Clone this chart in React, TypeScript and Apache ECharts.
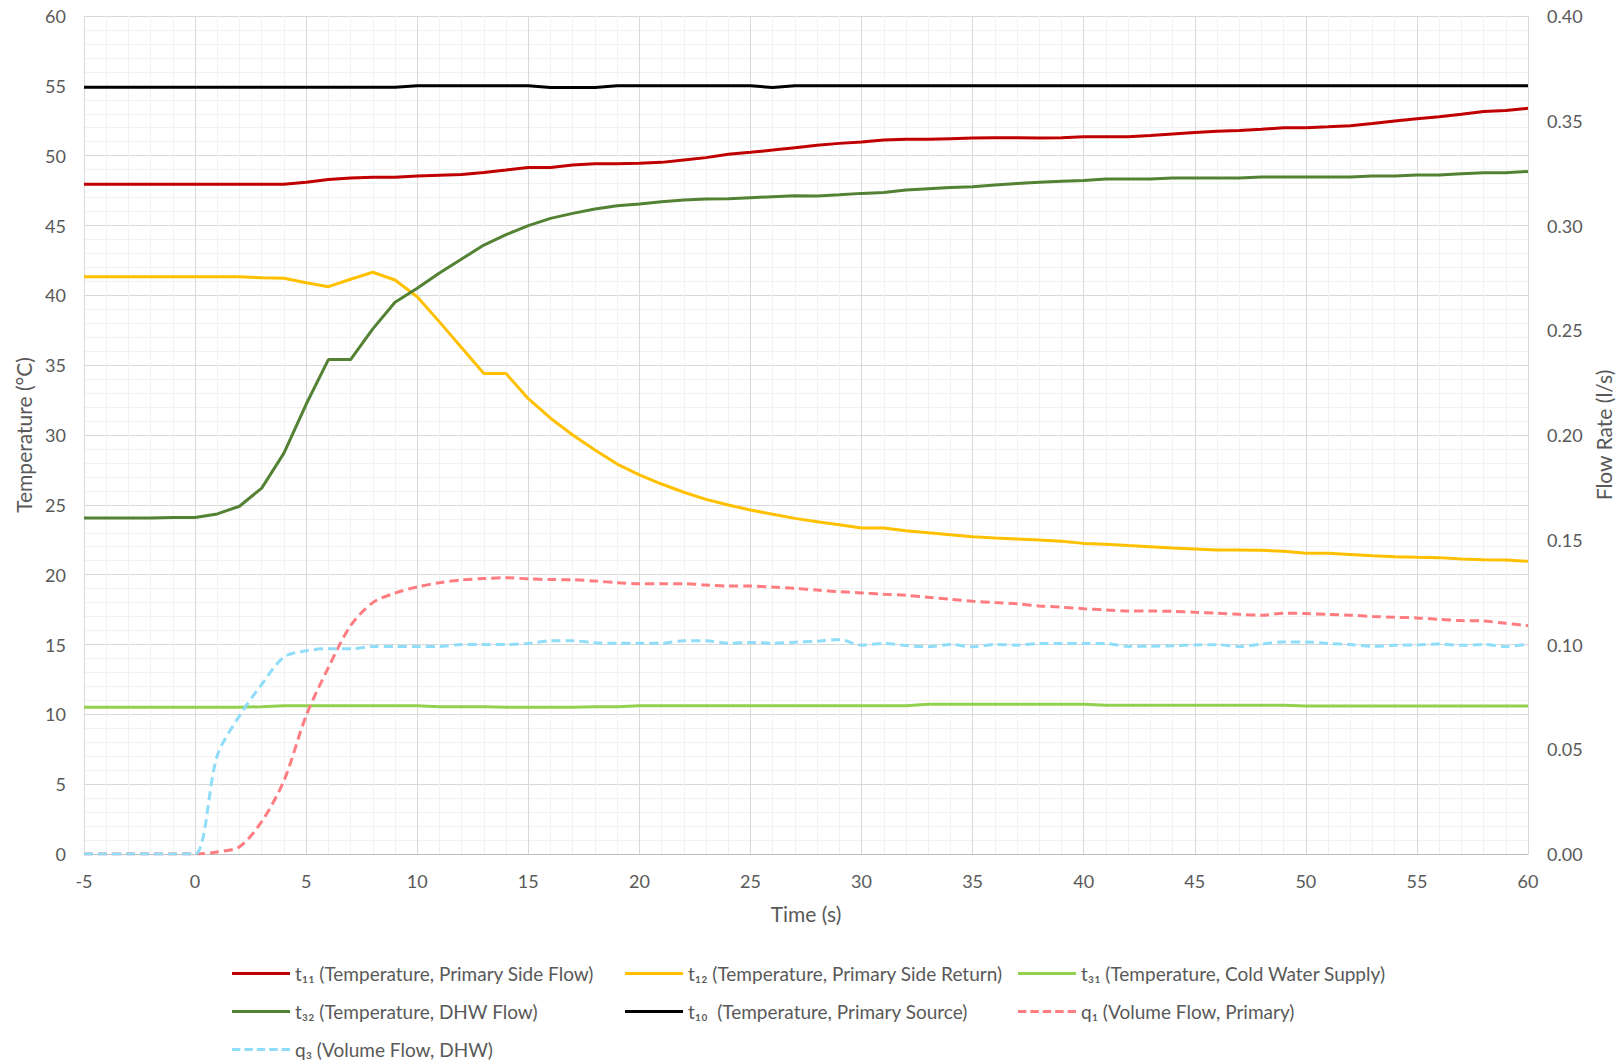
import React, { useEffect, useRef } from "react";
import * as echarts from "echarts";

const FONT = "Lato, 'Open Sans', sans-serif";
const TEXT_COLOR = "#595959";

// Time (s)
const time = [
  -5, -4, -3, -2, -1, 0, 1, 2, 3, 4, 5, 6, 7, 8, 9, 10, 11, 12, 13, 14, 15, 16, 17, 18, 19, 20,
  21, 22, 23, 24, 25, 26, 27, 28, 29, 30, 31, 32, 33, 34, 35, 36, 37, 38, 39, 40, 41, 42, 43, 44,
  45, 46, 47, 48, 49, 50, 51, 52, 53, 54, 55, 56, 57, 58, 59, 60,
];

// t11 Primary Side Flow (°C)
const t11 = [
  47.95, 47.95, 47.95, 47.95, 47.95, 47.95, 47.95, 47.95, 47.95, 47.95, 48.1, 48.3, 48.4, 48.45,
  48.45, 48.55, 48.6, 48.65, 48.8, 48.97, 49.15, 49.15, 49.33, 49.42, 49.42, 49.45, 49.52, 49.69,
  49.86, 50.1, 50.24, 50.4, 50.57, 50.74, 50.88, 50.98, 51.12, 51.17, 51.17, 51.22, 51.26, 51.29,
  51.29, 51.27, 51.29, 51.36, 51.36, 51.36, 51.45, 51.55, 51.65, 51.74, 51.81, 51.89, 52.0, 52.0,
  52.07, 52.15, 52.31, 52.48, 52.65, 52.79, 52.96, 53.17, 53.24, 53.39,
];

// t12 Primary Side Return (°C)
const t12 = [
  41.33, 41.33, 41.33, 41.33, 41.33, 41.33, 41.33, 41.33, 41.26, 41.22, 40.9, 40.62, 41.15, 41.65,
  41.1, 39.9, 38.1, 36.25, 34.4, 34.4, 32.6, 31.2, 30.0, 28.93, 27.92, 27.14, 26.49, 25.9, 25.39,
  24.99, 24.63, 24.32, 24.03, 23.79, 23.58, 23.34, 23.34, 23.15, 23.0, 22.86, 22.72, 22.62, 22.55,
  22.48, 22.39, 22.24, 22.17, 22.08, 22.0, 21.91, 21.84, 21.77, 21.77, 21.75, 21.67, 21.53, 21.53,
  21.45, 21.36, 21.29, 21.24, 21.22, 21.12, 21.07, 21.05, 20.96,
];

// t31 Cold Water Supply (°C)
const t31 = [
  10.5, 10.5, 10.5, 10.5, 10.5, 10.5, 10.5, 10.5, 10.55, 10.62, 10.62, 10.62, 10.62, 10.62, 10.62,
  10.62, 10.55, 10.55, 10.55, 10.5, 10.5, 10.5, 10.5, 10.55, 10.55, 10.62, 10.62, 10.62, 10.62,
  10.62, 10.62, 10.62, 10.62, 10.62, 10.62, 10.62, 10.62, 10.62, 10.72, 10.72, 10.72, 10.72, 10.72,
  10.72, 10.72, 10.72, 10.65, 10.65, 10.65, 10.65, 10.65, 10.65, 10.65, 10.65, 10.65, 10.6, 10.6,
  10.6, 10.6, 10.6, 10.6, 10.6, 10.6, 10.6, 10.6, 10.6,
];

// t32 DHW Flow (°C)
const t32 = [
  24.05, 24.05, 24.05, 24.05, 24.1, 24.1, 24.35, 24.9, 26.2, 28.7, 32.2, 35.4, 35.4, 37.6, 39.5,
  40.5, 41.6, 42.6, 43.6, 44.35, 44.99, 45.51, 45.87, 46.18, 46.42, 46.54, 46.7, 46.82, 46.9, 46.92,
  46.99, 47.06, 47.13, 47.12, 47.2, 47.3, 47.37, 47.54, 47.64, 47.72, 47.78, 47.9, 48.0, 48.09,
  48.16, 48.23, 48.33, 48.33, 48.33, 48.4, 48.4, 48.4, 48.4, 48.47, 48.47, 48.47, 48.47, 48.47,
  48.54, 48.54, 48.61, 48.61, 48.71, 48.78, 48.78, 48.87,
];

// t10 Primary Source (°C)
const t10 = [
  54.9, 54.9, 54.9, 54.9, 54.9, 54.9, 54.9, 54.9, 54.9, 54.9, 54.9, 54.9, 54.9, 54.9, 54.9, 55.0,
  55.0, 55.0, 55.0, 55.0, 55.0, 54.88, 54.88, 54.88, 55.0, 55.0, 55.0, 55.0, 55.0, 55.0, 55.0,
  54.88, 55.0, 55.0, 55.0, 55.0, 55.0, 55.0, 55.0, 55.0, 55.0, 55.0, 55.0, 55.0, 55.0, 55.0, 55.0,
  55.0, 55.0, 55.0, 55.0, 55.0, 55.0, 55.0, 55.0, 55.0, 55.0, 55.0, 55.0, 55.0, 55.0, 55.0, 55.0,
  55.0, 55.0, 55.0,
];

// q1 Volume Flow, Primary (l/s)
const q1 = [
  0, 0, 0, 0, 0, 0, 0.001, 0.0035, 0.0155, 0.035, 0.066, 0.089, 0.109, 0.12, 0.1245, 0.1275, 0.1295,
  0.1308, 0.1315, 0.1319, 0.1313, 0.131, 0.1309, 0.1303, 0.1295, 0.129, 0.129, 0.129, 0.1284,
  0.1279, 0.1279, 0.1274, 0.1268, 0.126, 0.1252, 0.1246, 0.124, 0.1235, 0.1225, 0.1216, 0.1206,
  0.12, 0.1194, 0.1184, 0.1178, 0.1171, 0.1165, 0.116, 0.116, 0.1158, 0.1154, 0.115, 0.1144, 0.114,
  0.1149, 0.1148, 0.1144, 0.114, 0.1134, 0.113, 0.1127, 0.112, 0.1114, 0.1112, 0.1101, 0.109,
];

// q3 Volume Flow, DHW (l/s)
const q3 = [
  0, 0, 0, 0, 0, 0, 0.047, 0.066, 0.081, 0.094, 0.097, 0.098, 0.098, 0.099, 0.099, 0.099, 0.099,
  0.1, 0.1, 0.1, 0.1005, 0.1018, 0.1018, 0.1008, 0.1006, 0.1006, 0.1006, 0.1018, 0.1018, 0.1006,
  0.101, 0.1006, 0.1011, 0.1016, 0.1024, 0.0997, 0.1005, 0.0995, 0.0989, 0.1, 0.0989, 0.1, 0.0997,
  0.1005, 0.1005, 0.1005, 0.1005, 0.0991, 0.0992, 0.0994, 0.0998, 0.0999, 0.0991, 0.1002, 0.1012,
  0.1012, 0.1005, 0.1, 0.0991, 0.0996, 0.0998, 0.1002, 0.0996, 0.1, 0.0991, 0.1002,
];

const NAMES = [
  "t₁₁ (Temperature, Primary Side Flow)",
  "t₁₂ (Temperature, Primary Side Return)",
  "t₃₁ (Temperature, Cold Water Supply)",
  "t₃₂ (Temperature, DHW Flow)",
  "t₁₀  (Temperature, Primary Source)",
  "q₁ (Volume Flow, Primary)",
  "q₃ (Volume Flow, DHW)",
];

const SOLID_ICON = "path://M0,0H58V3H0Z";
const DASH_ICON =
  "path://M0,0H8.4V3H0Z M12.4,0H20.8V3H12.4Z M24.8,0H33.2V3H24.8Z M37.2,0H45.6V3H37.2Z M49.6,0H58V3H49.6Z";

const zip = (vals: number[]) => time.map((t, i) => [t, vals[i]]);

export default function App() {
  const ref = useRef<HTMLDivElement>(null);

  useEffect(() => {
    if (!ref.current) return;
    const chart = echarts.init(ref.current, undefined, { renderer: "svg" });

    const legendPos = [
      [232, 964],
      [625, 964],
      [1018, 964],
      [232, 1002],
      [625, 1002],
      [1018, 1002],
      [232, 1040],
    ];

    const seriesDefs = [
      { name: NAMES[0], data: t11, color: "#C00000", axis: 0, dash: false },
      { name: NAMES[1], data: t12, color: "#FFC000", axis: 0, dash: false },
      { name: NAMES[2], data: t31, color: "#92D050", axis: 0, dash: false },
      { name: NAMES[3], data: t32, color: "#548235", axis: 0, dash: false },
      { name: NAMES[4], data: t10, color: "#000000", axis: 0, dash: false },
      { name: NAMES[5], data: q1, color: "#FF7C80", axis: 1, dash: true },
      { name: NAMES[6], data: q3, color: "#8FDDF8", axis: 1, dash: true },
    ];

    const option: any = {
      animation: false,
      textStyle: { fontFamily: FONT },
      grid: { left: 84, right: 95, top: 16, bottom: 210, containLabel: false },
      legend: seriesDefs.map((s, i) => ({
        data: [s.name],
        left: legendPos[i][0],
        top: legendPos[i][1],
        padding: 0,
        icon: s.dash ? DASH_ICON : SOLID_ICON,
        itemWidth: 58,
        itemHeight: 3,
        selectedMode: false,
        textStyle: { color: TEXT_COLOR, fontSize: 19, fontFamily: FONT },
      })),
      xAxis: {
        type: "value",
        min: -5,
        max: 60,
        interval: 5,
        name: "Time (s)",
        nameLocation: "middle",
        nameGap: 49,
        nameTextStyle: { color: TEXT_COLOR, fontSize: 21, fontFamily: FONT },
        axisLine: { show: true, onZero: false, lineStyle: { color: "#BFBFBF", width: 1 } },
        axisTick: { show: false },
        axisLabel: { color: TEXT_COLOR, fontSize: 18, margin: 18, fontFamily: FONT },
        splitLine: { show: true, lineStyle: { color: "#D9D9D9", width: 1 } },
        minorTick: { show: false, splitNumber: 5 },
        minorSplitLine: { show: true, lineStyle: { color: "#F2F2F2", width: 1 } },
      },
      yAxis: [
        {
          type: "value",
          min: 0,
          max: 60,
          interval: 5,
          name: "Temperature (°C)",
          nameLocation: "middle",
          nameGap: 47,
          nameRotate: 90,
          nameTextStyle: { color: TEXT_COLOR, fontSize: 21, fontFamily: FONT },
          axisLine: { show: false },
          axisTick: { show: false },
          axisLabel: { color: TEXT_COLOR, fontSize: 18, margin: 18, fontFamily: FONT },
          splitLine: { show: true, lineStyle: { color: "#D9D9D9", width: 1 } },
          minorTick: { show: false, splitNumber: 5 },
          minorSplitLine: { show: true, lineStyle: { color: "#F2F2F2", width: 1 } },
        },
        {
          type: "value",
          position: "right",
          min: 0,
          max: 0.4,
          interval: 0.05,
          name: "Flow Rate (l/s)",
          nameLocation: "middle",
          nameGap: 65,
          nameRotate: 90,
          nameTextStyle: { color: TEXT_COLOR, fontSize: 21, fontFamily: FONT },
          axisLine: { show: false },
          axisTick: { show: false },
          axisLabel: {
            color: TEXT_COLOR,
            fontSize: 18,
            margin: 19,
            fontFamily: FONT,
            formatter: (v: number) => v.toFixed(2),
          },
          splitLine: { show: false },
        },
      ],
      series: seriesDefs.map((s) => ({
        name: s.name,
        type: "line",
        xAxisIndex: 0,
        yAxisIndex: s.axis,
        data: zip(s.data),
        symbol: "none",
        showSymbol: false,
        smooth: s.dash ? 0.3 : false,
        color: s.color,
        lineStyle: {
          color: s.color,
          width: 3,
          type: s.dash ? [9, 5] : "solid",
          cap: "butt",
        },
        itemStyle: { color: s.color },
      })),
    };

    chart.setOption(option);
    return () => chart.dispose();
  }, []);

  return (
    <div
      ref={ref}
      style={{ position: "absolute", left: 0, top: 0, width: 1623, height: 1064, background: "#fff" }}
    />
  );
}
